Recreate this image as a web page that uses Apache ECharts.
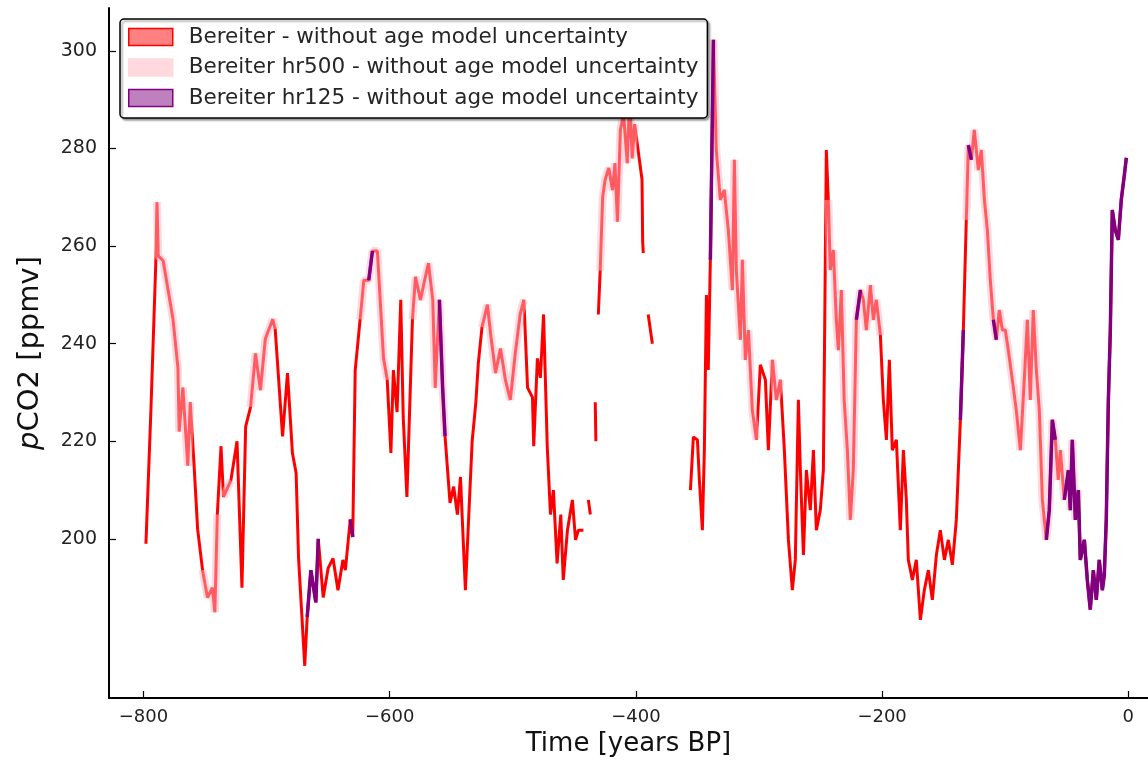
<!DOCTYPE html>
<html><head><meta charset="utf-8">
<script src="https://cdn.jsdelivr.net/npm/echarts@6/dist/echarts.min.js"></script>
<style>html,body{margin:0;padding:0;background:#fff}#c{width:1148px;height:766px}</style>
</head><body><div id="c"></div>
<script>
// Time in kyr (years BP axis), CO2 in ppmv; null = gap in record
const time = [
-798,-794,-790,-789,-788,-784,-780,-776,-772,-771,-768,-764,-762,-759,-756,-752,-748,-744,-742,-740,
-737,-735,-729,-724,-720,-717,-713,-709,-705,-701,-695,-693,-687,-683,-679,-676,-674,-669,-667,-664,
-660,-658,-654,-650,-646,-642,-638,-636,-632,-630,-628,-624,-621,-617,-614,-610,-607.5,-605,-602,-599,
-597,-594,-591,-589,-586,-581.5,-579,-575,-571,-568.5,-565,-563,-559.6,-557,-555,-551,-548,-545,-542.5,-538.5,
-533,-530,-528,-525,-520.6,-518,-514,-510,-506,-502,-498,-494,-491,-488,-484,-483,-480,-477.6,-475,-472,
-469.4,-467,-464,-461,-459,-455.6,-451.6,-449,-446.7,-442.6,-440,-438.6,-437,-435,-433,-432.5,-431.5,
-430.5,-429,-427,-425,-422,-419,-417,-415,-412.6,-410,-407,-405,-403,-401,-395,-394.5,-394,-392,-390,-386.6,-370,
-355.7,-353.3,-350,-348.4,-346,-344.4,-342.7,-341.2,-339.5,-337,-334.7,-331.4,-328.2,-324.9,-321.6,-320,-318.4,-315.1,-313.5,-311.1,
-308.6,-305.4,-302.1,-298.9,-294.8,-292.4,-289.1,-285.9,-282.6,-279.4,-276.1,-272.9,-270.5,-268,-266.4,-263.9,-261.5,-258.3,-255.8,-253.4,
-250.2,-247.7,-245.3,-243.7,-242.1,-239.6,-237.2,-235.5,-233.1,-230.8,-228.2,-225.8,-223.4,-220.9,-217.6,-215.2,-212.8,-209.5,-207.1,-204.7,
-201.4,-199,-196.5,-194.1,-191.7,-188.4,-185.2,-182.7,-180.3,-178.7,-175.4,-172.2,-168.9,-165.7,-162.4,-159.2,-155.9,-152.7,-149.4,-146.2,
-142.9,-139.7,-136.4,-134,-131.6,-129.9,-127.5,-125.1,-121.8,-119.4,-116.9,-114.5,-112.1,-109.6,-107.2,-104.8,-102.3,-99.9,-97.5,-94.2,
-91,-87.7,-84.5,-82,-79.6,-77.2,-74.7,-72.3,-69.8,-66.6,-64.2,-61.7,-59.3,-56.9,-55.2,-52,-48.7,-47.1,-45.5,-43,
-40.6,-39,-35.7,-33.3,-30.9,-28.4,-26,-23.6,-21.1,-19.5,-17.9,-16.2,-14.6,-13,-10.6,-8.1,-5.7,-3.2,-1.6
];
const co2 = [
199,226,256.5,269,258,257,251,245,235,222,231,215,228,215.6,202,193.6,188,190,185,205,
219,208.6,212,220,190,223,227,238,230.5,241,245,243,221,234,217.6,213.5,196,174,184,193.6,
187,200,188,194,196,189.5,195.7,193.6,204,200.4,234.6,245,253,253,259,259,248,237,232.6,217.6,
234.6,226,249,225,208.6,245,253.7,249,253.7,256.5,249,231,249,231,221,207.4,210.7,205,212.7,189.5,
220,228,236,243.4,248,242,234,239,232.6,228.5,238,246,249,231,229,219,237,233,246,219,
205,210,195,205,191.6,201.8,208,199.8,201.8,201.8,null,208,205,null,228,220,null,
246,255,270,273.6,276,271.5,277,265,283.8,287,277,291,278,285,273.6,261,258.6,null,246,240,null,
210,220.9,220.3,212,201.8,218,250,234.6,257.2,302.3,279.7,269.5,271.5,263.3,251,277.7,255.1,240.8,257.2,236.7,
242.8,226.4,220.3,235.7,232.6,218.2,236.7,228.5,232.6,218.2,199.8,189.5,195.7,228.5,214.1,196.7,214.1,205.9,218.2,201.8,
205.9,214.1,279.7,269.5,255.1,259.2,244.9,238.7,251,228.5,218.2,203.9,214.1,244.9,251,249,242.8,252,244.9,249,
241.8,228.5,220.3,236.7,218.2,220.3,201.8,218.2,208,195.7,191.6,195.7,183.4,189.5,193.6,187.5,196.7,201.8,195.7,199.8,
194.7,203.9,224.4,242.8,265.4,280.7,277.7,283.8,275.6,279.7,269.5,263.3,253.1,244.9,240.8,246.9,242.8,242.8,238.7,232.6,
226.4,218.2,232.6,244.9,228.5,246.9,234.6,226.4,208,199.8,205.9,224.4,220.3,212.1,218.2,208,214.1,205.9,220.3,203.9,
210,195.7,199.8,191.6,185.5,193.6,187.5,195.7,189.5,192.6,203.9,228.5,242.8,267.4,263.3,261.3,269.5,274.6,278.1
];
// time spans where the hr500 and hr125 records are visible
const hr500Ranges = [[-789,-760],[-752,-740],[-735,-725],[-713,-690],[-624,-600],[-585,-555],[-525,-490],
  [-430,-397],[-337,-300],[-290,-280],[-245,-200],[-132,-40]];
const hr125Ranges = [[-668,-664],[-661,-657.5],[-633,-630],[-617,-614],[-561,-554],[-339.5,-337],
  [-221,-217],[-137,-134],[-131,-127],[-110,-106],[-67,-64],[-62,-59],[-53,0]];
const xTicks = [-800,-600,-400,-200,0];
const yTicks = [200,220,240,260,280,300];
const names = ['Bereiter - without age model uncertainty',
               'Bereiter hr500 - without age model uncertainty',
               'Bereiter hr125 - without age model uncertainty'];

function inRanges(t, rs){ return rs.some(r => t >= r[0] && t <= r[1]); }
const redData = time.map((t,i) => [t, co2[i] == null ? '-' : co2[i]]);
const pinkData = time.map((t,i) => [t, (co2[i] != null && inRanges(t, hr500Ranges)) ? co2[i] : '-']);
const purpleData = time.map((t,i) => [t, (co2[i] != null && inRanges(t, hr125Ranges)) ? co2[i] : '-']);

const chart = echarts.init(document.getElementById('c'), null, {renderer:'canvas'});
const FONT = 'DejaVu Sans';
chart.setOption({
  animation:false,
  backgroundColor:'#fff',
  grid:{left:109,right:0,top:8,bottom:68},
  xAxis:{type:'value',min:-828,max:16,
    name:'Time [years BP]',nameLocation:'middle',nameGap:33,
    nameTextStyle:{fontFamily:FONT,fontSize:26,color:'#111'},
    axisLine:{show:true,onZero:false,lineStyle:{color:'#000',width:2}},
    axisTick:{show:true,inside:true,length:7,lineStyle:{color:'#000',width:1.2},customValues:xTicks},
    axisLabel:{customValues:xTicks,formatter:v=>String(v).replace('-','\u2212'),fontFamily:FONT,fontSize:18,color:'#222',margin:10},
    splitLine:{show:false}},
  yAxis:{type:'value',min:167.4,max:308.8,
    name:'{it|p}CO2 [ppmv]',nameLocation:'middle',nameGap:64,nameRotate:90,
    nameTextStyle:{fontFamily:FONT,fontSize:29,color:'#111',
      rich:{it:{fontStyle:'italic',fontFamily:FONT,fontSize:29,color:'#111'}}},
    axisLine:{show:true,onZero:false,lineStyle:{color:'#000',width:2}},
    axisTick:{show:true,inside:true,length:7,lineStyle:{color:'#000',width:1.2},customValues:yTicks},
    axisLabel:{customValues:yTicks,fontFamily:FONT,fontSize:19,color:'#222',margin:12},
    splitLine:{show:false}},
  legend:{left:120,top:19,orient:'vertical',itemWidth:44,itemHeight:17,itemGap:8.5,
    padding:[7,9,9,8],borderColor:'#000',borderWidth:1.5,borderRadius:4,backgroundColor:'#fff',
    shadowColor:'rgba(0,0,0,0.35)',shadowBlur:2,shadowOffsetX:2,shadowOffsetY:2,
    icon:'rect',selectedMode:false,
    textStyle:{fontFamily:FONT,fontSize:21.5,color:'#262626',padding:[0,0,0,11]},
    data:[
      {name:names[0],itemStyle:{color:'#ff8080',borderColor:'#ff0000',borderWidth:1.5}},
      {name:names[1],itemStyle:{color:'#ffd9de',borderColor:'#ffd9de',borderWidth:1.5}},
      {name:names[2],itemStyle:{color:'#bf80bf',borderColor:'#800080',borderWidth:1.5}}
    ]},
  series:[
    {name:names[0],type:'line',data:redData,showSymbol:false,connectNulls:false,
      lineStyle:{color:'#ff0000',width:3},itemStyle:{color:'#ff0000'}},
    {name:names[1],type:'line',data:pinkData,showSymbol:false,connectNulls:false,
      lineStyle:{color:'rgba(255,182,193,0.5)',width:8},itemStyle:{color:'#ffd9de'}},
    {name:names[2],type:'line',data:purpleData,showSymbol:false,connectNulls:false,
      lineStyle:{color:'#800080',width:3.5},itemStyle:{color:'#800080'}}
  ]
});
</script></body></html>
